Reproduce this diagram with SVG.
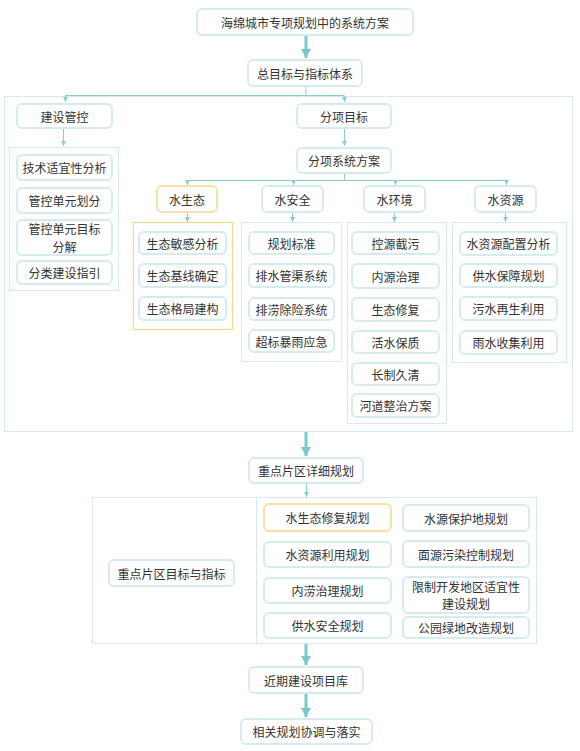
<svg xmlns="http://www.w3.org/2000/svg" width="580" height="751" viewBox="0 0 580 751">
<style>
.b{fill:#fff;stroke:#d6ebee;stroke-width:2}
.y{stroke:#f5e1a4}
.c{fill:none;stroke:#d6eaed;stroke-width:1}
.cy{fill:none;stroke:#f1d98c;stroke-width:1.2}
text{font-family:"Noto Sans CJK SC","Noto Sans",sans-serif;font-size:12px;fill:#333;text-anchor:middle;dominant-baseline:central}
.l{fill:none;stroke:#8ccbd0;stroke-width:1}
.k{fill:none;stroke:#78c8cd;stroke-width:3}
</style>
<defs>
<marker id="a" markerWidth="6" markerHeight="6" refX="5" refY="3" orient="auto" markerUnits="userSpaceOnUse"><path d="M0,0.5 L5,3 L0,5.5 Z" fill="#8ccbd0"/></marker>
<marker id="A" markerWidth="12" markerHeight="12" refX="9" refY="5" orient="auto" markerUnits="userSpaceOnUse"><path d="M0,0 L9,5 L0,10 Z" fill="#78c8cd"/></marker>
</defs>
<g id="containers">
<rect class="c" x="4.5" y="96.5" width="568" height="335"/>
<rect class="c" x="9.5" y="147.5" width="109" height="143"/>
<rect class="cy" x="133.5" y="222.5" width="99" height="107"/>
<rect class="c" x="241.5" y="222.5" width="100" height="139"/>
<rect class="c" x="347.5" y="222.5" width="99" height="201"/>
<rect class="c" x="452.5" y="222.5" width="114" height="140"/>
<rect class="c" x="92.5" y="497.5" width="444" height="146"/>
<line class="c" x1="256.5" y1="497.5" x2="256.5" y2="643.5"/>
</g>
<g id="connectors">
<line class="k" x1="306" y1="35" x2="306" y2="58" marker-end="url(#A)"/>
<line class="k" x1="306" y1="432" x2="306" y2="456" marker-end="url(#A)"/>
<line class="k" x1="306" y1="644" x2="306" y2="665" marker-end="url(#A)"/>
<line class="k" x1="306" y1="693" x2="306" y2="717" marker-end="url(#A)"/>
<polyline class="l" points="306,86 306,95.5"/>
<line class="l" x1="65" y1="95.5" x2="344" y2="95.5"/>
<line class="l" x1="65.5" y1="95.5" x2="65.5" y2="102" marker-end="url(#a)"/>
<line class="l" x1="344.5" y1="95.5" x2="344.5" y2="102" marker-end="url(#a)"/>
<line class="l" x1="63.5" y1="128" x2="63.5" y2="146" marker-end="url(#a)"/>
<line class="l" x1="344.5" y1="128" x2="344.5" y2="146" marker-end="url(#a)"/>
<line class="l" x1="344.5" y1="173" x2="344.5" y2="180.5"/>
<line class="l" x1="187" y1="180.5" x2="506" y2="180.5"/>
<line class="l" x1="187.5" y1="180.5" x2="187.5" y2="185" marker-end="url(#a)"/>
<line class="l" x1="293.5" y1="180.5" x2="293.5" y2="185" marker-end="url(#a)"/>
<line class="l" x1="395.5" y1="180.5" x2="395.5" y2="185" marker-end="url(#a)"/>
<line class="l" x1="506.5" y1="180.5" x2="506.5" y2="185" marker-end="url(#a)"/>
<line class="l" x1="187.5" y1="212" x2="187.5" y2="222" marker-end="url(#a)"/>
<line class="l" x1="292.5" y1="212" x2="292.5" y2="222" marker-end="url(#a)"/>
<line class="l" x1="394.5" y1="212" x2="394.5" y2="222" marker-end="url(#a)"/>
<line class="l" x1="505.5" y1="212" x2="505.5" y2="222" marker-end="url(#a)"/>
<line class="l" x1="306.5" y1="483" x2="306.5" y2="497" marker-end="url(#a)"/>
</g>
<g id="n1"><rect class="b" x="197" y="9" width="216" height="26" rx="5"/><text x="305" y="22">海绵城市专项规划中的系统方案</text></g>
<g id="n2"><rect class="b" x="248" y="60" width="114" height="26" rx="5"/><text x="305" y="73">总目标与指标体系</text></g>
<g id="n3"><rect class="b" x="17" y="104" width="95" height="24" rx="5"/><text x="64.5" y="116">建设管控</text></g>
<g id="n4"><rect class="b" x="297" y="104" width="94" height="24" rx="5"/><text x="344" y="116">分项目标</text></g>
<g id="n5"><rect class="b" x="297" y="148" width="94" height="25" rx="5"/><text x="344" y="160.5">分项系统方案</text></g>
<g id="n6"><rect class="b" x="17" y="155" width="95" height="25" rx="5"/><text x="64.5" y="167.5">技术适宜性分析</text></g>
<g id="n7"><rect class="b" x="17" y="188" width="95" height="25" rx="5"/><text x="64.5" y="200.5">管控单元划分</text></g>
<g id="n8"><rect class="b" x="17" y="220" width="95" height="35" rx="5"/><text x="64.5" y="228.8">管控单元目标</text><text x="64.5" y="246.3">分解</text></g>
<g id="n9"><rect class="b" x="17" y="261" width="95" height="23" rx="5"/><text x="64.5" y="272.5">分类建设指引</text></g>
<g id="n10"><rect class="b y" x="157" y="186" width="60" height="26" rx="5"/><text x="187" y="199">水生态</text></g>
<g id="n11"><rect class="b" x="262" y="186" width="61" height="26" rx="5"/><text x="292.5" y="199">水安全</text></g>
<g id="n12"><rect class="b" x="364" y="186" width="61" height="26" rx="5"/><text x="394.5" y="199">水环境</text></g>
<g id="n13"><rect class="b" x="475" y="186" width="61" height="26" rx="5"/><text x="505.5" y="199">水资源</text></g>
<g id="n14"><rect class="b" x="139" y="232" width="87" height="22" rx="5"/><text x="182.5" y="243">生态敏感分析</text></g>
<g id="n15"><rect class="b" x="139" y="264" width="87" height="23" rx="5"/><text x="182.5" y="275.5">生态基线确定</text></g>
<g id="n16"><rect class="b" x="139" y="297" width="87" height="23" rx="5"/><text x="182.5" y="308.5">生态格局建构</text></g>
<g id="n17"><rect class="b" x="249" y="232" width="85" height="22" rx="5"/><text x="291.5" y="243">规划标准</text></g>
<g id="n18"><rect class="b" x="249" y="264" width="85" height="23" rx="5"/><text x="291.5" y="275.5">排水管渠系统</text></g>
<g id="n19"><rect class="b" x="249" y="298" width="85" height="22" rx="5"/><text x="291.5" y="309">排涝除险系统</text></g>
<g id="n20"><rect class="b" x="249" y="330" width="85" height="22" rx="5"/><text x="291.5" y="341">超标暴雨应急</text></g>
<g id="n21"><rect class="b" x="352" y="232" width="87" height="22" rx="5"/><text x="395.5" y="243">控源截污</text></g>
<g id="n22"><rect class="b" x="352" y="264" width="87" height="24" rx="5"/><text x="395.5" y="276">内源治理</text></g>
<g id="n23"><rect class="b" x="352" y="298" width="87" height="23" rx="5"/><text x="395.5" y="309.5">生态修复</text></g>
<g id="n24"><rect class="b" x="352" y="331" width="87" height="22" rx="5"/><text x="395.5" y="342">活水保质</text></g>
<g id="n25"><rect class="b" x="352" y="363" width="87" height="22" rx="5"/><text x="395.5" y="374">长制久清</text></g>
<g id="n26"><rect class="b" x="352" y="394" width="87" height="23" rx="5"/><text x="395.5" y="405.5">河道整治方案</text></g>
<g id="n27"><rect class="b" x="460" y="232" width="97" height="23" rx="5"/><text x="508.5" y="243.5">水资源配置分析</text></g>
<g id="n28"><rect class="b" x="460" y="264" width="97" height="23" rx="5"/><text x="508.5" y="275.5">供水保障规划</text></g>
<g id="n29"><rect class="b" x="460" y="297" width="97" height="23" rx="5"/><text x="508.5" y="308.5">污水再生利用</text></g>
<g id="n30"><rect class="b" x="460" y="331" width="97" height="23" rx="5"/><text x="508.5" y="342.5">雨水收集利用</text></g>
<g id="n31"><rect class="b" x="249" y="458" width="114" height="25" rx="5"/><text x="306" y="470.5">重点片区详细规划</text></g>
<g id="n32"><rect class="b" x="109" y="560" width="125" height="26" rx="5"/><text x="171.5" y="573">重点片区目标与指标</text></g>
<g id="n33"><rect class="b y" x="264" y="504" width="127" height="27" rx="5"/><text x="327.5" y="517.5">水生态修复规划</text></g>
<g id="n34"><rect class="b" x="264" y="542" width="127" height="25" rx="5"/><text x="327.5" y="554.5">水资源利用规划</text></g>
<g id="n35"><rect class="b" x="264" y="578" width="127" height="25" rx="5"/><text x="327.5" y="590.5">内涝治理规划</text></g>
<g id="n36"><rect class="b" x="264" y="613" width="127" height="25" rx="5"/><text x="327.5" y="625.5">供水安全规划</text></g>
<g id="n37"><rect class="b" x="403" y="505" width="126" height="26" rx="5"/><text x="466" y="518">水源保护地规划</text></g>
<g id="n38"><rect class="b" x="403" y="541" width="126" height="26" rx="5"/><text x="466" y="554">面源污染控制规划</text></g>
<g id="n39"><rect class="b" x="403" y="577" width="126" height="36" rx="5"/><text x="466" y="586.2">限制开发地区适宜性</text><text x="466" y="603.8">建设规划</text></g>
<g id="n40"><rect class="b" x="403" y="617" width="126" height="21" rx="5"/><text x="466" y="627.5">公园绿地改造规划</text></g>
<g id="n41"><rect class="b" x="249" y="667" width="114" height="26" rx="5"/><text x="306" y="680">近期建设项目库</text></g>
<g id="n42"><rect class="b" x="241" y="719" width="131" height="25" rx="5"/><text x="306.5" y="731.5">相关规划协调与落实</text></g>
</svg>
